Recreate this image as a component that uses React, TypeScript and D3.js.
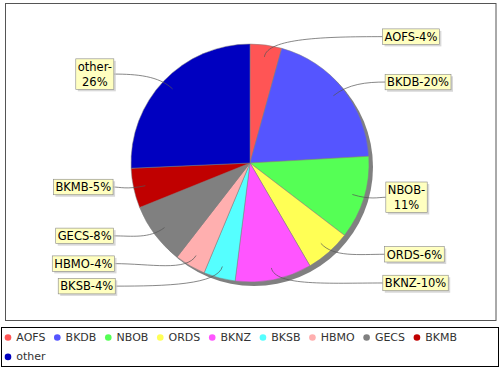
import * as d3 from 'd3';
import React from 'react';

// slice data (percent of total)
const names = ['AOFS', 'BKDB', 'NBOB', 'ORDS', 'BKNZ', 'BKSB', 'HBMO', 'GECS', 'BKMB', 'other'];
const values = [4.3, 19.8, 11.3, 6.2, 10.4, 4.3, 4.2, 8.4, 5.4, 25.7];
const palette = ['#ff5555', '#5555ff', '#55ff55', '#ffff55', '#ff55ff', '#55ffff', '#ffafaf', '#808080', '#c00000', '#0000c0'];

const W = 500;
const H = 370;
const FONT = '"DejaVu Sans", Verdana, sans-serif';
const FS = 11.5; // label boxes
const LFS = 11; // legend

const ctx = document.createElement('canvas').getContext('2d')!;
function textW(s: string, size: number) {
    ctx.font = `${size}px "DejaVu Sans"`;
    return ctx.measureText(s).width;
}

interface Lbl {
    i: number;
    theta: number;
    side: 'left' | 'right';
    lines: string[];
    w: number;
    h: number;
    y: number;
}

const App: React.FC = () => {
    const cx = 250;
    const cy = 163;
    const r = 119;

    const total = d3.sum(values);
    const color = d3.scaleOrdinal<string, string>().domain(names).range(palette);

    const pie = d3.pie<number>().sort(null).value(d => d).startAngle(0).endAngle(2 * Math.PI);
    const arcs = pie(values);
    const arc = d3.arc<d3.PieArcDatum<number>>().innerRadius(0).outerRadius(r);

    // labels
    const lineH = 15;
    const labels: Lbl[] = arcs.map((a, i) => {
        const theta = (a.startAngle + a.endAngle) / 2;
        const side = theta < Math.PI ? 'right' : 'left';
        const pct = Math.round((values[i] / total) * 100);
        const full = `${names[i]}-${pct}%`;
        const maxW = side === 'right' ? 62.5 : 59;
        const lines = textW(full, FS) > maxW ? [`${names[i]}-`, `${pct}%`] : [full];
        const w = d3.max(lines, l => textW(l, FS))! + 4;
        const h = lines.length * lineH + 0.5;
        return { i, theta, side, lines, w, h, y: cy - 2.5 - Math.cos(theta) * 125 };
    });

    // spread overlapping labels on each side
    (['left', 'right'] as const).forEach(side => {
        const group = labels.filter(l => l.side === side).sort((a, b) => a.y - b.y);
        for (let k = 0; k < 50; k++) {
            for (let j = 1; j < group.length; j++) {
                const a = group[j - 1];
                const b = group[j];
                const need = (a.h + b.h) / 2 + 7;
                const gap = b.y - a.y;
                if (gap < need) {
                    const d = (need - gap) / 2;
                    a.y -= d;
                    b.y += d;
                }
            }
        }
    });

    // legend layout (flow, wraps at the box width)
    const cr = 3.3;
    const legendItems: { name: string; x: number; row: number }[] = [];
    let lx = 4.7;
    let row = 0;
    names.forEach(n => {
        const iw = cr + 8.3 + textW(n, LFS);
        if (lx + iw > W - 4) {
            row += 1;
            lx = 4.7;
        }
        legendItems.push({ name: n, x: lx, row });
        lx += iw + 8.6;
    });

    return (
        <svg
            width={W}
            height={H}
            style={{ position: 'absolute', left: 0, top: 0, background: '#fff', fontFamily: FONT }}
        >
            <rect x={0} y={0} width={W} height={H} fill="#fff" />
            {/* plot border */}
            <rect x={5.5} y={3.5} width={490.5} height={317} fill="#fff" stroke="#555" strokeWidth={1} />

            {/* pie shadow */}
            <circle cx={cx + 4} cy={cy + 4} r={r} fill="#808080" />
            <g transform={`translate(${cx},${cy})`}>
                {arcs.map((a, i) => (
                    <path key={names[i]} d={arc(a)!} fill={color(names[i])} stroke="#808080" strokeWidth={0.5} />
                ))}
            </g>

            {/* label links and boxes */}
            {labels.map(l => {
                const sx = cx + Math.sin(l.theta) * r * 0.9;
                const sy = cy - Math.cos(l.theta) * r * 0.9;
                const ex = cx + Math.sin(l.theta) * 126;
                const ey = cy - Math.cos(l.theta) * 126;
                const s = Math.abs(Math.sin(l.theta));
                const tx = l.side === 'right' ? cx + 132 + 4 * s : cx - 134 - 3 * s;
                const ty = l.y;
                const p = d3.path();
                p.moveTo(sx, sy);
                p.bezierCurveTo(ex, ey, (ex + tx) / 2, ty, tx, ty);
                const bx = l.side === 'right' ? tx : tx - l.w;
                const by = ty - l.h / 2;
                return (
                    <g key={names[l.i]}>
                        <path d={p.toString()} fill="none" stroke="#555" strokeWidth={0.7} />
                        <rect x={bx + 2} y={by + 2} width={l.w} height={l.h} fill="#c8c8c8" opacity={0.7} />
                        <rect x={bx} y={by} width={l.w} height={l.h} fill="#ffffc0" stroke="#888" strokeWidth={0.6} />
                        {l.lines.map((t, k) => (
                            <text
                                key={k}
                                x={bx + l.w / 2}
                                y={by + 0.5 + lineH * k + lineH / 2}
                                textAnchor="middle"
                                dominantBaseline="central"
                                fontSize={FS}
                                fill="#000"
                            >
                                {t}
                            </text>
                        ))}
                    </g>
                );
            })}

            {/* legend */}
            <rect x={1.5} y={327.5} width={497} height={39} fill="#fff" stroke="#000" strokeWidth={1} />
            {legendItems.map(it => {
                const yy = 337.5 + it.row * 19.4;
                return (
                    <g key={it.name}>
                        <circle cx={it.x + cr} cy={yy} r={cr} fill={color(it.name)} />
                        <text x={it.x + cr + 8.3} y={yy} dominantBaseline="central" fontSize={LFS} fill="#333">
                            {it.name}
                        </text>
                    </g>
                );
            })}
        </svg>
    );
};

export default App;
